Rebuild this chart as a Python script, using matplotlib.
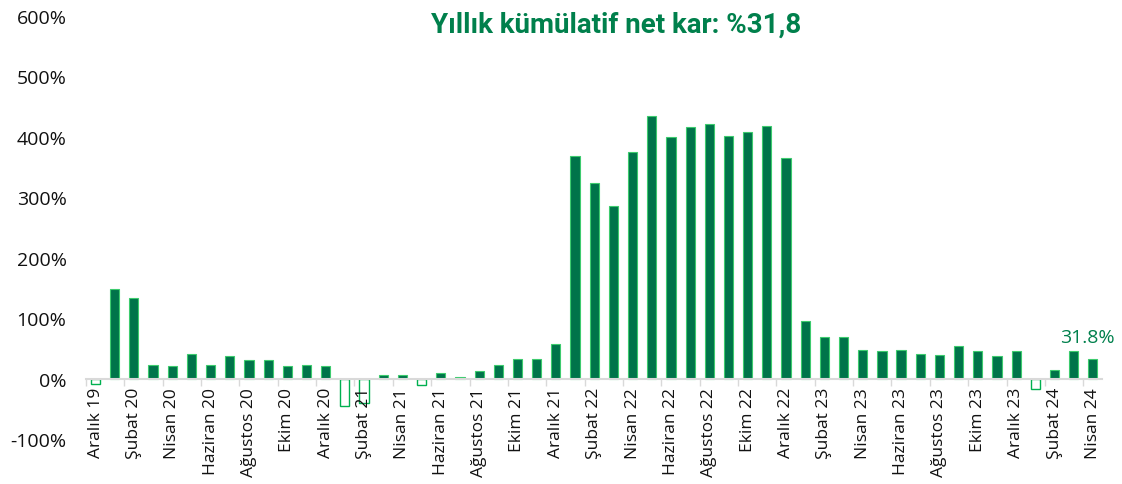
import numpy as np
import matplotlib
matplotlib.use("Agg")
import matplotlib.pyplot as plt
from matplotlib import font_manager

# monthly values, Aralık 19 .. Nisan 24 (%)
months = ["Aralık 19", "Ocak 20", "Şubat 20", "Mart 20", "Nisan 20", "Mayıs 20",
          "Haziran 20", "Temmuz 20", "Ağustos 20", "Eylül 20", "Ekim 20", "Kasım 20",
          "Aralık 20", "Ocak 21", "Şubat 21", "Mart 21", "Nisan 21", "Mayıs 21",
          "Haziran 21", "Temmuz 21", "Ağustos 21", "Eylül 21", "Ekim 21", "Kasım 21",
          "Aralık 21", "Ocak 22", "Şubat 22", "Mart 22", "Nisan 22", "Mayıs 22",
          "Haziran 22", "Temmuz 22", "Ağustos 22", "Eylül 22", "Ekim 22", "Kasım 22",
          "Aralık 22", "Ocak 23", "Şubat 23", "Mart 23", "Nisan 23", "Mayıs 23",
          "Haziran 23", "Temmuz 23", "Ağustos 23", "Eylül 23", "Ekim 23", "Kasım 23",
          "Aralık 23", "Ocak 24", "Şubat 24", "Mart 24", "Nisan 24"]
values = [-9, 148, 133, 23, 21, 40, 23, 38, 30, 30, 21, 23,
          20, -46, -40, 6, 6, -10, 9, 2, 13, 22, 32, 32,
          58, 369, 323, 286, 375, 434, 400, 417, 421, 402, 408, 418,
          365, 96, 68, 68, 48, 45, 48, 41, 39, 54, 45, 37,
          45, -17, 14, 45, 31.8]
y_ticks = [-100, 0, 100, 200, 300, 400, 500, 600]

title = "Yıllık kümülatif net kar: %31,8"
last_label = "31.8%"

green = "#00744A"
edge_green = "#3DCB6E"
neg_edge = "#00B050"
title_green = "#00804C"

plt.rcParams["font.family"] = ["Open Sans", "DejaVu Sans"]

# narrow bold face for the title if available
installed = {f.name for f in font_manager.fontManager.ttflist}
title_font = "Liberation Sans Narrow" if "Liberation Sans Narrow" in installed else "Roboto"

fig = plt.figure(figsize=(11.22, 4.85), dpi=100)
ax = fig.add_axes([0.0766, 0.0928, 0.906, 0.872])

x = np.arange(len(values))
vals = np.array(values, dtype=float)
pos = vals >= 0
ax.bar(x[pos], vals[pos], width=0.48, color=green, edgecolor=edge_green, linewidth=0.8)
ax.bar(x[~pos], vals[~pos], width=0.48, color="white", edgecolor=neg_edge, linewidth=1.0)

ax.set_xlim(-0.5, len(values) - 0.5)
ax.set_ylim(-100, 600)
ax.set_yticks(y_ticks)
ax.set_yticklabels([f"{v}%" for v in y_ticks], fontsize=14, color="#111111")
ax.tick_params(axis="y", length=0, pad=14)

# x axis sits on zero line, labels every second month
ax.spines["bottom"].set_position(("data", 0))
ax.spines["bottom"].set_color("#D9D9D9")
ax.spines["bottom"].set_linewidth(1.5)
for s in ["top", "right", "left"]:
    ax.spines[s].set_visible(False)

ax.set_xticks(x[::2])
ax.set_xticklabels(months[::2], rotation=90, fontsize=12.5, color="#111111")
ax.set_xticks(np.arange(-0.5, len(values), 2), minor=True)
ax.tick_params(axis="x", which="major", length=0, pad=6)
ax.tick_params(axis="x", which="minor", length=5, color="#D9D9D9", width=1)

ax.text(x[-1] - 0.3, 54, last_label, ha="center", va="bottom", fontsize=14,
        color=title_green)

fig.text(0.549, 0.948, title, ha="center", va="center", fontsize=20,
         fontweight="bold", color=title_green, family=[title_font, "DejaVu Sans"])

fig.savefig("out.png", dpi=100)
